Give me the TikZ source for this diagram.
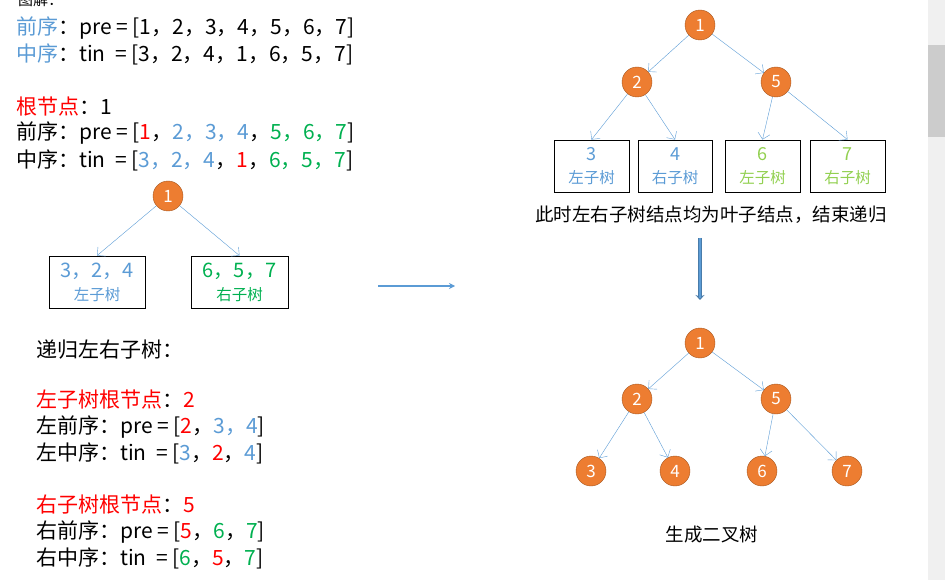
\documentclass[tikz,border=0pt]{standalone}
\usepackage{fontspec}
\setmainfont{Noto Sans CJK SC}
\usetikzlibrary{arrows.meta}
\definecolor{bl}{HTML}{5B9BD5}
\definecolor{rd}{HTML}{FF0000}
\definecolor{gn}{HTML}{00B050}
\definecolor{lg}{HTML}{92D050}
\definecolor{og}{HTML}{ED7D31}
\begin{document}
\begin{tikzpicture}[x=1pt,y=-1pt,
 circ/.style={circle,fill=og,draw=og!70!black,text=white,minimum size=30pt,inner sep=0pt,font=\fontsize{17}{17}\selectfont},
 sbox/.style={draw,thick,minimum height=52pt,inner sep=0pt,align=center,font=\fontsize{15.5}{23}\selectfont},
 edge/.style={draw=bl,-{Straight Barb[length=6pt]}},
 txt/.style={anchor=west,inner sep=0pt,font=\fontsize{21}{21}\selectfont},
 lab/.style={font=\fontsize{18.5}{18.5}\selectfont}]
\useasboundingbox (0,0) rectangle (945,580);
\fill[gray!12] (928,0) rectangle (945,580);
\fill[gray!40] (928,45) rectangle (945,137);
\node[anchor=west,inner sep=0pt,font=\fontsize{15}{15}\selectfont] (t0) at (18,0) {图解：};
% left texts
\node[txt] (t1) at (16,28) {\textcolor{bl}{前序}：pre = [1，2，3，4，5，6，7]};
\node[txt] (t2) at (16,54) {\textcolor{bl}{中序}：tin\ \ = [3，2，4，1，6，5，7]};
\node[txt] (t3) at (16,107) {\textcolor{rd}{根节点}：1};
\node[txt] (t4) at (16,133) {前序：pre = [\textcolor{rd}{1}，\textcolor{bl}{2，3，4}，\textcolor{gn}{5，6，7}]};
\node[txt] (t5) at (16,160) {中序：tin\ \ = [\textcolor{bl}{3，2，4}，\textcolor{rd}{1}，\textcolor{gn}{6，5，7}]};
\node[circ] (a1) at (168,196) {1};
\node[sbox,minimum width=96pt,text=bl] (ab) at (97,282) {{\fontsize{20}{23}\selectfont 3，2，4}\\左子树};
\node[sbox,minimum width=97pt,text=gn] (ac) at (239.5,282) {{\fontsize{20}{23}\selectfont 6，5，7}\\右子树};
\draw[edge] (a1) -- (ab.north);
\draw[edge] (a1) -- (ac.north);
\node[txt] (t6) at (36,350) {递归左右子树：};
\node[txt] (t7) at (36,400) {\textcolor{rd}{左子树根节点}：\textcolor{rd}{2}};
\node[txt] (t8) at (36,427) {左前序：pre = [\textcolor{rd}{2}，\textcolor{bl}{3，4}]};
\node[txt] (t9) at (36,453) {左中序：tin\ \ = [\textcolor{bl}{3}，\textcolor{rd}{2}，\textcolor{bl}{4}]};
\node[txt] (t10) at (36,505) {\textcolor{rd}{右子树根节点}：\textcolor{rd}{5}};
\node[txt] (t11) at (36,532) {右前序：pre = [\textcolor{rd}{5}，\textcolor{gn}{6}，\textcolor{gn}{7}]};
\node[txt] (t12) at (36,558) {右中序：tin\ \ = [\textcolor{gn}{6}，\textcolor{rd}{5}，\textcolor{gn}{7}]};
% horizontal arrow
\coordinate (h1) at (378,286); \coordinate (h2) at (455,286);
\draw[bl,line width=2pt,-{Stealth[length=6pt,width=6pt]}] (h1) -- (h2);
% right tree
\node[circ] (r1) at (700,25) {1};
\node[circ] (r2) at (637,82) {2};
\node[circ] (r5) at (776,82) {5};
\node[sbox,minimum width=75pt,text=bl] (b3) at (591.5,166) {{\fontsize{18}{23}\selectfont 3}\\左子树};
\node[sbox,minimum width=74pt,text=bl] (b4) at (675,166) {{\fontsize{18}{23}\selectfont 4}\\右子树};
\node[sbox,minimum width=75pt,text=lg] (b6) at (762.5,166) {{\fontsize{18}{23}\selectfont 6}\\左子树};
\node[sbox,minimum width=75pt,text=lg] (b7) at (847.5,166) {{\fontsize{18}{23}\selectfont 7}\\右子树};
\draw[edge] (r1) -- (r2); \draw[edge] (r1) -- (r5);
\draw[edge] (r2) -- (b3.north); \draw[edge] (r2) -- (b4.north);
\draw[edge] (r5) -- (b6.north); \draw[edge] (r5) -- (b7.north);
\node[lab] (msg) at (711,215) {此时左右子树结点均为叶子结点，结束递归};
\coordinate (v1) at (700,238); \coordinate (v2) at (700,300);
\draw[bl!80!black,line width=4pt,-{Stealth[length=5pt,width=9pt]}] (v1) -- (v2);
\draw[bl,line width=2.6pt,shorten >=2pt] (v1) -- (v2);
% bottom tree
\node[circ] (c1) at (700,343) {1};
\node[circ] (c2) at (637,399) {2};
\node[circ] (c5) at (776,399) {5};
\node[circ] (c3) at (591,471) {3};
\node[circ] (c4) at (675,471) {4};
\node[circ] (c6) at (762,471) {6};
\node[circ] (c7) at (847,471) {7};
\draw[edge] (c1) -- (c2); \draw[edge] (c1) -- (c5);
\draw[edge] (c2) -- (c3); \draw[edge] (c2) -- (c4);
\draw[edge] (c5) -- (c6); \draw[edge] (c5) -- (c7);
\node[lab] (gen) at (712,535) {生成二叉树};
\end{tikzpicture}
\end{document}
